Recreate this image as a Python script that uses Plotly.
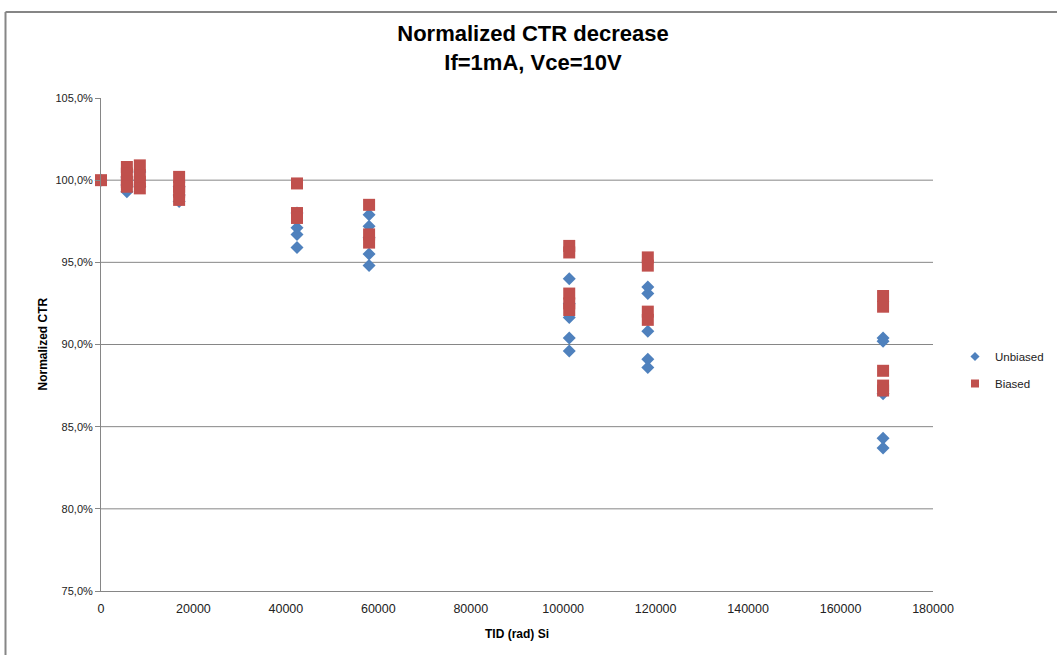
import plotly.graph_objects as go

# Total ionising dose (rad, Si) for each measurement step
unbiased_tid = [0,
                5600, 5600, 5600,
                8400, 8400, 8400,
                16900, 16900, 16900,
                42400, 42400, 42400, 42400,
                58000, 58000, 58000, 58000, 58000,
                101300, 101300, 101300, 101300, 101300,
                118300, 118300, 118300, 118300, 118300,
                169200, 169200, 169200, 169200, 169200]
# Normalized CTR of the unbiased devices (%)
unbiased_ctr = [100.0,
                99.3, 99.7, 100.2,
                99.6, 100.0, 100.5,
                98.7, 99.1, 99.6,
                98.0, 97.1, 96.7, 95.9,
                97.9, 97.2, 96.5, 95.5, 94.8,
                94.0, 92.5, 91.65, 90.4, 89.6,
                93.5, 93.1, 90.8, 89.1, 88.6,
                90.4, 90.2, 87.0, 84.3, 83.7]

biased_tid = [0,
              5600, 5600, 5600, 5600,
              8400, 8400, 8400, 8400,
              16900, 16900, 16900, 16900,
              42400, 42400, 42400,
              58000, 58000, 58000,
              101300, 101300, 101300, 101300, 101300,
              118300, 118300, 118300, 118300,
              169200, 169200, 169200, 169200, 169200]
# Normalized CTR of the biased devices (%)
biased_ctr = [100.0,
              100.8, 100.4, 99.9, 99.6,
              100.9, 100.3, 99.9, 99.5,
              100.2, 99.6, 99.3, 98.8,
              99.8, 98.0, 97.7,
              98.5, 96.7, 96.2,
              96.0, 95.6, 93.1, 92.5, 92.1,
              95.3, 94.8, 92.0, 91.5,
              92.95, 92.3, 88.4, 87.5, 87.2]

series_names = ["Unbiased", "Biased"]
y_gridlines = [80, 85, 90, 95, 100]

BLUE = "#4F81BD"
RED = "#C0504D"
GRID = "#868686"

fig = go.Figure()

fig.add_trace(go.Scatter(
    x=unbiased_tid, y=unbiased_ctr, mode="markers", name=series_names[0],
    marker=dict(symbol="diamond", size=10, color=BLUE, line=dict(width=0)),
    showlegend=False, cliponaxis=False,
))
fig.add_trace(go.Scatter(
    x=biased_tid, y=biased_ctr, mode="markers", name=series_names[1],
    marker=dict(symbol="square", size=12, color=RED, line=dict(width=0)),
    showlegend=False, cliponaxis=False,
))

# Legend entries with smaller symbols
fig.add_trace(go.Scatter(
    x=[None], y=[None], mode="markers", name=series_names[0], legendgroup="u",
    marker=dict(symbol="diamond", size=7, color=BLUE),
))
fig.add_trace(go.Scatter(
    x=[None], y=[None], mode="markers", name=series_names[1], legendgroup="b",
    marker=dict(symbol="square", size=8, color=RED),
))

for g in y_gridlines:
    fig.add_hline(y=g, line=dict(color=GRID, width=1), layer="below")

W, H = 1057, 655
L, R, T, B = 101, 124, 98, 64
pw, ph = W - L - R, H - T - B

# Chart-area frame (left and top edges)
frame_left_px, frame_top_px = 5.5, 12
fx0 = (frame_left_px - L) / pw
fy1 = (H - B - frame_top_px) / ph
fig.add_shape(type="line", xref="paper", yref="paper",
              x0=fx0, x1=fx0, y0=(H - B - 700) / ph, y1=fy1,
              line=dict(color=GRID, width=2), layer="above")
fig.add_shape(type="line", xref="paper", yref="paper",
              x0=fx0, x1=(W - L) / pw, y0=fy1, y1=fy1,
              line=dict(color=GRID, width=2), layer="above")

fig.add_annotation(
    text="<b>Normalized CTR</b>", textangle=-90,
    xref="paper", yref="paper", x=(33 - L) / pw, y=0.5,
    showarrow=False, font=dict(family="Liberation Sans", size=12, color="#000"),
)

fig.update_layout(
    width=W, height=H,
    margin=dict(l=L, r=R, t=T, b=B, autoexpand=False),
    paper_bgcolor="white", plot_bgcolor="white",
    separators=",.",
    title=dict(
        text="<b>Normalized CTR decrease<br>If=1mA, Vce=10V</b>",
        x=533 / W, xanchor="center", xref="container",
        y=1 - 41 / H, yanchor="top", yref="container",
        font=dict(family="Liberation Sans", size=22, color="#000"),
    ),
    font=dict(family="Liberation Sans", size=11, color="#222"),
    legend=dict(
        x=(955 - L) / pw, y=(H - B - 342) / ph, xanchor="left", yanchor="top",
        font=dict(family="Liberation Sans", size=11.5, color="#222"),
        tracegroupgap=8, traceorder="grouped",
        itemwidth=30, bgcolor="rgba(0,0,0,0)",
    ),
    xaxis=dict(
        range=[0, 180000], dtick=20000, tick0=0, tickformat="d",
        showline=True, linecolor=GRID, linewidth=1,
        showgrid=False, zeroline=False, ticks="",
        ticklabelstandoff=6,
        tickfont=dict(family="Liberation Sans", size=12.5, color="#222"),
        title=dict(text="<b>TID (rad) Si</b>", standoff=14,
                   font=dict(family="Liberation Sans", size=12, color="#000")),
    ),
    yaxis=dict(
        range=[75, 105], dtick=5, tick0=75, tickformat=".1f", ticksuffix="%",
        showline=True, linecolor=GRID, linewidth=1,
        showgrid=False, zeroline=False, ticks="outside", ticklen=5,
        tickcolor=GRID,
        tickfont=dict(family="Liberation Sans", size=11, color="#222"),
    ),
)

fig.write_html("out.html", config=dict(displayModeBar=False))
